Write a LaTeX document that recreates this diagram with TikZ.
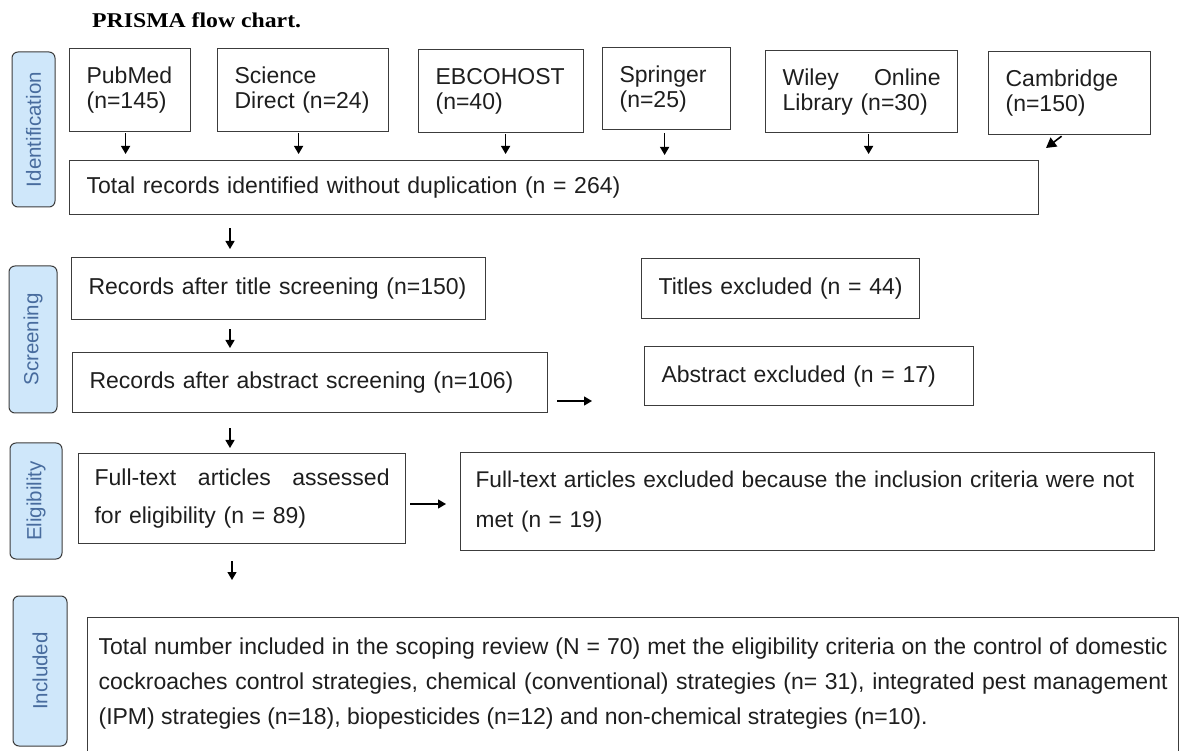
\documentclass[tikz,border=0pt]{standalone}
\usepackage{fontspec}
\setmainfont{Liberation Sans}
\newfontfamily\titlefont{Liberation Serif}
\usetikzlibrary{arrows.meta}
\definecolor{bord}{RGB}{60,60,60}
\definecolor{lblfill}{RGB}{207,231,250}
\definecolor{lbltext}{RGB}{72,108,158}
\definecolor{txt}{RGB}{30,30,30}
\begin{document}
\begin{tikzpicture}[x=1pt,y=-1pt]
\tikzset{
  box/.style={draw=bord, line width=1.2pt, anchor=north west, inner xsep=17pt, inner ysep=0pt,
    align=left, text=txt, font=\fontsize{23}{25}\selectfont},
  lbl/.style={draw=bord, fill=lblfill, line width=1pt, rounded corners=6pt, rotate=90,
    inner sep=0pt, text=lbltext, font=\fontsize{20.5}{21}\selectfont},
  arr/.style={-{Triangle[width=9pt,length=8pt]}, line width=1.3pt, black},
}
\path[use as bounding box] (0,0) rectangle (1179,751);
\clip (0,0) rectangle (1179,751);

% title
\node[anchor=base west, inner sep=0pt] (title) at (92,28)
  {\scalebox{1.13}[1]{\titlefont\bfseries\fontsize{21}{21}\selectfont PRISMA flow chart.}};

% stage labels
\node[lbl, minimum width=155pt, minimum height=43pt] (lid) at (33.5,129.5) {Identification};
\node[lbl, minimum width=147pt, minimum height=48pt] (lsc) at (33,339.5) {Screening};
\node[lbl, minimum width=116pt, minimum height=52pt] (lel) at (36,501) {Eligibility};
\node[lbl, minimum width=150pt, minimum height=54pt] (lin) at (40,671) {Included};

% identification
\node[box, text width=87pt, minimum height=83pt] (pub) at (69,48) {PubMed\\(n=145)};
\node[box, text width=137pt, minimum height=83pt] (sd) at (217,48) {Science\\Direct (n=24)};
\node[box, text width=131pt, minimum height=83pt] (ebc) at (418,49) {EBCOHOST\\(n=40)};
\node[box, text width=94pt, minimum height=82pt] (spr) at (602,47) {Springer\\(n=25)};
\node[box, text width=158pt, minimum height=82pt] (wil) at (765,50) {Wiley\hfill Online\\Library (n=30)};
\node[box, text width=128pt, minimum height=83pt] (cam) at (988,51) {Cambridge\\(n=150)};
\node[box, text width=935pt, minimum height=54pt] (tot) at (69,160) {Total records identified without duplication (n = 264)};

% screening
\node[box, text width=380pt, minimum height=62pt] (r1) at (71,257) {Records after title screening (n=150)};
\node[box, text width=244pt, minimum height=60pt] (tex) at (641,258) {Titles excluded (n = 44)};
\node[box, text width=441pt, minimum height=60pt] (r2) at (72,352) {Records after abstract screening (n=106)};
\node[box, text width=295pt, minimum height=59pt] (aex) at (644,346) {Abstract excluded (n = 17)};

% eligibility
\node[box, inner xsep=16pt, text width=295pt, minimum height=90pt, font=\fontsize{23}{38}\selectfont] (ft) at (78,453)
  {Full-text\hfill articles\hfill assessed\\for eligibility (n = 89)};
\node[box, inner xsep=15pt, text width=664pt, minimum height=98pt, font=\fontsize{22.7}{40}\selectfont] (fex) at (460,452)
  {\mbox{Full-text articles excluded because the inclusion criteria were not}\\met (n = 19)};

% included
\node[box, inner xsep=11pt, inner ysep=20pt] (inc) at (87,617)
  {\parbox[t][150pt][t]{1069pt}{\fontsize{23}{35}\selectfont
  Total number included in the scoping review (N = 70) met the eligibility criteria on the control of domestic\linebreak
  cockroaches control strategies, chemical (conventional) strategies (n= 31), integrated pest management\linebreak
  (IPM) strategies (n=18), biopesticides (n=12) and non-chemical strategies (n=10).}};

% connectors: sources to total
\draw[arr, shorten <=1pt, shorten >=6pt] ([xshift=-4.5pt]pub.south) -- ([xshift=-4.5pt]pub.south |- tot.north);
\draw[arr, shorten <=1pt, shorten >=6pt] ([xshift=-4.5pt]sd.south) -- ([xshift=-4.5pt]sd.south |- tot.north);
\draw[arr, shorten <=1pt, shorten >=6pt] ([xshift=4.5pt]ebc.south) -- ([xshift=4.5pt]ebc.south |- tot.north);
\draw[arr, shorten <=3pt, shorten >=5pt] ([xshift=-2pt]spr.south) -- ([xshift=-2pt]spr.south |- tot.north);
\draw[arr, shorten <=1pt, shorten >=6pt] ([xshift=7pt]wil.south) -- ([xshift=7pt]wil.south |- tot.north);
\coordinate (camtip) at (1046,148);
\draw[-{Triangle[width=11pt,length=10pt]}, line width=1.6pt] ([xshift=-8pt,yshift=-1pt]cam.south) -- (camtip);

% main column
\coordinate (ax) at (230,0);
\draw[arr, shorten <=13pt, shorten >=8pt] (tot.south -| ax) -- (r1.north -| ax);
\draw[arr, shorten <=9pt, shorten >=4pt] (r1.south -| ax) -- (r2.north -| ax);
\draw[arr, shorten <=15pt, shorten >=5pt] (r2.south -| ax) -- (ft.north -| ax);
\coordinate (bx) at (232,0);
\draw[arr, shorten <=17pt, shorten >=37pt] (ft.south -| bx) -- (inc.north -| bx);

% side arrows
\coordinate (ra) at (0,401);
\draw[arr, shorten <=9pt, shorten >=52pt] (r2.east |- ra) -- (aex.west |- ra);
\coordinate (rb) at (0,504);
\draw[arr, shorten <=4pt, shorten >=14pt] (ft.east |- rb) -- (fex.west |- rb);
\end{tikzpicture}
\end{document}
